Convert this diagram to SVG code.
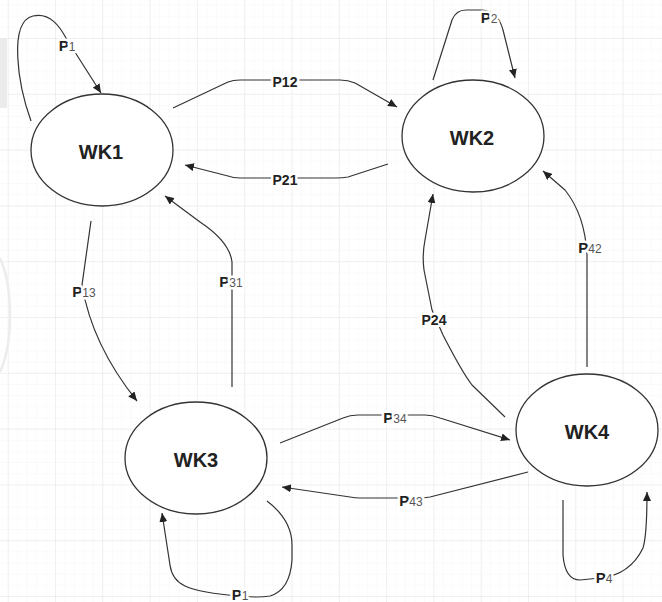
<svg xmlns="http://www.w3.org/2000/svg" width="662" height="602" viewBox="0 0 662 602">
<style>
.node{fill:#fff;stroke:#333;stroke-width:1.3}
.nl{font-family:"Liberation Sans",Arial,sans-serif;font-weight:bold;font-size:20px;fill:#222;text-anchor:middle}
.edge{fill:none;stroke:#333;stroke-width:1.2;stroke-linejoin:round}
.lb{font-family:"Liberation Sans",Arial,sans-serif;font-weight:bold;font-size:14px;fill:#222;text-anchor:middle;stroke:#fff;stroke-width:5;paint-order:stroke;stroke-linejoin:round}
.p{font-size:15px}
.s{font-size:12px;font-weight:normal;fill:#555}
</style>
<defs>
<pattern id="minor" patternUnits="userSpaceOnUse" x="55" y="38" width="9.46" height="11.16">
<path d="M0 0H9.46M0 0V11.16" fill="none" stroke="#f6f6f6" stroke-width="1"/>
</pattern>
<pattern id="major" patternUnits="userSpaceOnUse" x="55" y="38" width="47.3" height="55.8">
<path d="M0 0H47.3M0 0V55.8" fill="none" stroke="#e6e6e6" stroke-width="1"/>
</pattern>
<marker id="arr" markerUnits="userSpaceOnUse" markerWidth="10" markerHeight="8" refX="9" refY="4" orient="auto">
<path d="M0,0 L9,4 L0,8 z" fill="#222"/>
</marker>
</defs>
<rect width="662" height="602" fill="#fff"/>
<rect width="662" height="602" fill="url(#minor)"/>
<rect width="662" height="602" fill="url(#major)"/>
<g id="watermark" fill="none" stroke="#ececec">
<rect x="0" y="38" width="7" height="70" fill="#ebebeb" stroke="none"/>
<path d="M0 258 Q10 280 10 315 Q10 350 0 372" stroke-width="2.5"/>
</g>
<g id="connectors">
<path class="edge" marker-end="url(#arr)" d="M31 121 C18 85 8 22 33 16 C50 12 60 27 66 38 L101 93"/>
<path class="edge" marker-end="url(#arr)" d="M173 108 L228 82 Q233 80 240 80 L340 80 Q348 80 355 83 L397 107"/>
<path class="edge" marker-end="url(#arr)" d="M388 164 L348 177 Q343 178 336 178 L240 178 Q233 178 228 176 L185 165"/>
<path class="edge" marker-end="url(#arr)" d="M433 80 L452 20 Q456 10 466 10 L482 10 Q498 11 503 30 L515 78"/>
<path class="edge" marker-end="url(#arr)" d="M91 221 L82 285 Q92 345 137 401"/>
<path class="edge" marker-end="url(#arr)" d="M232 387 L232 262 C230 245 215 232 200 222 L165 196"/>
<path class="edge" marker-end="url(#arr)" d="M505 417 L472 385 Q462 372 443 335 L432 310 L424 270 Q422 255 425 240 L433 194"/>
<path class="edge" marker-end="url(#arr)" d="M587 367 L587 255 Q585 215 565 190 L543 171"/>
<path class="edge" marker-end="url(#arr)" d="M280 443 L343 418 Q350 415 358 415 L425 415 Q432 415 440 418 L510 440"/>
<path class="edge" marker-end="url(#arr)" d="M528 472 L430 497 Q425 498 418 498 L360 498 Q355 498 350 497 L282 487"/>
<path class="edge" marker-end="url(#arr)" d="M267 501 Q292 520 292 545 L292 560 Q290 590 270 596 Q258 598 240 596 Q200 593 185 586 Q172 580 170 565 L162 513"/>
<path class="edge" marker-end="url(#arr)" d="M563 500 L563 555 Q565 580 580 580 L600 578 Q630 575 643 548 Q647 535 647 492"/>
<text class="lb" x="67" y="51"><tspan class="p">P</tspan><tspan class="s">1</tspan></text>
<text class="lb" x="285" y="87">P12</text>
<text class="lb" x="285" y="185">P21</text>
<text class="lb" x="489" y="23"><tspan class="p">P</tspan><tspan class="s">2</tspan></text>
<text class="lb" x="84" y="297"><tspan class="p">P</tspan><tspan class="s">13</tspan></text>
<text class="lb" x="231" y="287"><tspan class="p">P</tspan><tspan class="s">31</tspan></text>
<text class="lb" x="434" y="325">P24</text>
<text class="lb" x="590" y="253"><tspan class="p">P</tspan><tspan class="s">42</tspan></text>
<text class="lb" x="395" y="423"><tspan class="p">P</tspan><tspan class="s">34</tspan></text>
<text class="lb" x="411" y="506"><tspan class="p">P</tspan><tspan class="s">43</tspan></text>
<text class="lb" x="604" y="583"><tspan class="p">P</tspan><tspan class="s">4</tspan></text>
<text class="lb" x="240" y="600"><tspan class="p">P</tspan><tspan class="s">1</tspan></text>
</g>
<g id="WK1"><ellipse class="node" cx="102" cy="150" rx="71" ry="56"/><text class="nl" x="101" y="159">WK1</text></g>
<g id="WK2"><ellipse class="node" cx="473" cy="136" rx="71" ry="56"/><text class="nl" x="472" y="145">WK2</text></g>
<g id="WK3"><ellipse class="node" cx="196" cy="458" rx="71" ry="56"/><text class="nl" x="196" y="467">WK3</text></g>
<g id="WK4"><ellipse class="node" cx="587" cy="430" rx="71" ry="56"/><text class="nl" x="587" y="439">WK4</text></g>
</svg>
